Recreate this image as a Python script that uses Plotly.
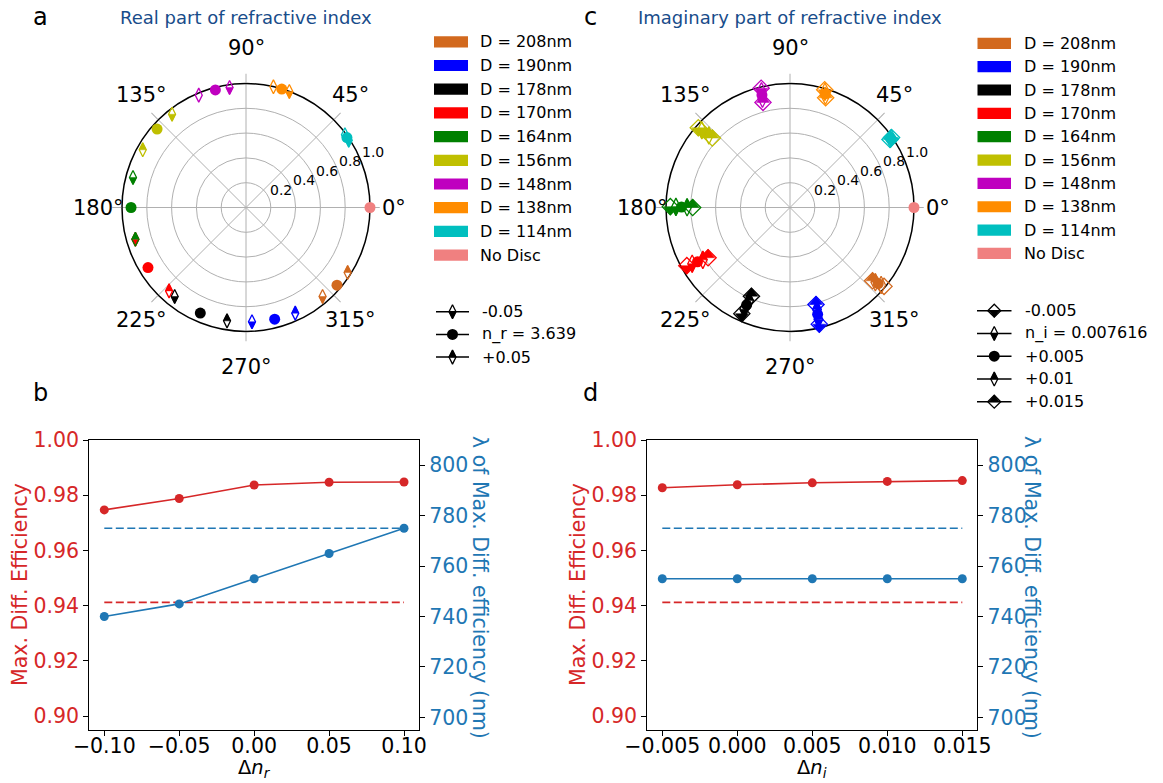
import math
import plotly.graph_objects as go

W, H = 1163, 783
FONT = "DejaVu Sans"
RED = "#d62728"
BLUE = "#1f77b4"
TITLE_BLUE = "#184c8a"
GRID = "#b0b0b0"
R_PX = 124  # polar radius in pixels

# ---------------- polar data ----------------
disc_labels = ["D = 208nm", "D = 190nm", "D = 178nm", "D = 170nm", "D = 164nm",
               "D = 156nm", "D = 148nm", "D = 138nm", "D = 114nm", "No Disc"]
disc_colors = ["#D2691E", "#0000FF", "#000000", "#FF0000", "#008000",
               "#BFBF00", "#BF00BF", "#FF8C00", "#00BFBF", "#F08080"]
disc_only_colors = disc_colors[:9]

# panel a (real part): phase in degrees and amplitude, discs 208 .. 114
real_phase_m005 = [310.7, 273.0, 231.3, 196.0, 165.1, 128.4, 97.8, 69.5, 33.2]
real_phase_nom = [319.5, 284.4, 246.6, 211.5, 180.0, 138.6, 104.6, 73.2, 34.7]
real_phase_p005 = [327.4, 295.0, 260.5, 227.3, 196.0, 150.8, 112.8, 77.2, 36.3]
real_amp_m005 = [0.947, 0.923, 0.920, 0.928, 0.943, 0.960, 0.977, 0.998, 0.990]
real_amp_nom = [0.965, 0.930, 0.928, 0.927, 0.927, 0.956, 0.980, 0.998, 0.990]
real_amp_p005 = [0.973, 0.940, 0.927, 0.915, 0.928, 0.954, 0.983, 0.998, 0.990]

# panel c (imaginary part)
imag_phase_m0005 = [320.0, 284.1, 245.6, 209.4, 179.6, 139.0, 103.6, 73.6, 34.6]
imag_phase_nom = [319.6, 284.3, 245.8, 209.9, 179.7, 138.8, 103.8, 73.2, 34.5]
imag_phase_p0005 = [319.2, 284.5, 246.0, 210.4, 179.8, 138.6, 104.0, 72.8, 34.4]
imag_phase_p001 = [318.8, 284.8, 246.3, 211.0, 179.9, 138.4, 104.2, 72.4, 34.3]
imag_phase_p0015 = [318.4, 285.0, 246.5, 211.5, 180.0, 138.2, 104.4, 72.0, 34.2]
imag_amp_m0005 = [0.990, 0.970, 0.940, 0.955, 0.965, 0.980, 0.990, 0.990, 0.995]
imag_amp_nom = [0.965, 0.930, 0.900, 0.910, 0.920, 0.945, 0.965, 0.975, 0.990]
imag_amp_p0005 = [0.940, 0.890, 0.860, 0.865, 0.875, 0.910, 0.935, 0.960, 0.985]
imag_amp_p001 = [0.915, 0.850, 0.820, 0.820, 0.830, 0.875, 0.905, 0.945, 0.980]
imag_amp_p0015 = [0.890, 0.810, 0.780, 0.775, 0.785, 0.840, 0.875, 0.930, 0.975]

nodisc_phase = [0.0]
nodisc_amp = [1.0]

ang_ticks = [0, 45, 90, 135, 180, 225, 270, 315]
ang_tick_text = ["0°", "45°", "90°", "135°", "180°", "225°", "270°", "315°"]
rad_ticks = [0.2, 0.4, 0.6, 0.8, 1.0]
rad_tick_text = ["0.2", "0.4", "0.6", "0.8", "1.0"]

legend_a_labels = ["-0.05", "n_r = 3.639", "+0.05"]
legend_c_labels = ["-0.005", "n_i = 0.007616", "+0.005", "+0.01", "+0.015"]

# ---------------- line-chart data ----------------
dn_r = [-0.10, -0.05, 0.00, 0.05, 0.10]
dn_r_text = ["−0.10", "−0.05", "0.00", "0.05", "0.10"]
eff_r = [0.9747, 0.9788, 0.9837, 0.9847, 0.9848]
lam_r = [740, 745, 755, 765, 775]

dn_i = [-0.005, 0.000, 0.005, 0.010, 0.015]
dn_i_text = ["−0.005", "0.000", "0.005", "0.010", "0.015"]
eff_i = [0.9827, 0.9838, 0.9845, 0.9850, 0.9853]
lam_i = [755, 755, 755, 755, 755]

ref_eff = 0.9412
ref_lam = 775

eff_ticks = [0.90, 0.92, 0.94, 0.96, 0.98, 1.00]
lam_ticks = [700, 720, 740, 760, 780, 800]

fig = go.Figure()
NOFILL = "rgba(0,0,0,0)"


def marker_traces(make, shift, pos, colors, kind, half=None, s=10.0):
    """kind: 'circle', 'thin', 'wide'; half: 'top' or 'bottom' filled (other half unfilled)."""
    if kind == "circle":
        fig.add_trace(make(pos, dict(symbol="circle", size=1.1 * s, color=colors, line=dict(width=0))))
        return
    if kind == "thin":
        osym = "diamond-tall"
        fsym = "arrow-down" if half == "bottom" else "arrow-up"
        fsize, dy = 0.7 * s, 0.7 * s
    else:
        osym = "diamond"
        fsym = "triangle-down" if half == "bottom" else "triangle-up"
        fsize, dy = 0.9 * s, 0.225 * s
    if half == "top":
        dy = -dy
    fig.add_trace(make(pos, dict(symbol=osym, size=s, color=NOFILL,
                                 line=dict(color=colors, width=1.3))))
    fig.add_trace(make(shift(pos, dy), dict(symbol=fsym, size=fsize, color=colors,
                                            line=dict(color=colors, width=0.5))))


def polar_maker(subplot):
    def make(pos, marker):
        r, th = pos
        return go.Scatterpolar(r=r, theta=th, subplot=subplot, mode="markers", marker=marker,
                               cliponaxis=False, showlegend=False, hoverinfo="skip")
    return make


def polar_shift(pos, dy_px):
    r, th = pos
    rr, tt = [], []
    for ri, ti in zip(r, th):
        x = ri * math.cos(math.radians(ti))
        y = ri * math.sin(math.radians(ti)) - dy_px / R_PX
        rr.append(math.hypot(x, y))
        tt.append(math.degrees(math.atan2(y, x)))
    return rr, tt


def helper_maker(pos, marker):
    x, y = pos
    return go.Scatter(x=x, y=y, xaxis="x3", yaxis="y5", mode="markers", marker=marker,
                      cliponaxis=False, showlegend=False, hoverinfo="skip")


def helper_shift(pos, dy_px):
    x, y = pos
    return x, [v + dy_px for v in y]


# ----- panel a -----
mk = polar_maker("polar")
marker_traces(mk, polar_shift, (real_amp_m005, real_phase_m005), disc_only_colors, "thin", "bottom")
marker_traces(mk, polar_shift, (real_amp_nom, real_phase_nom), disc_only_colors, "circle")
marker_traces(mk, polar_shift, (real_amp_p005, real_phase_p005), disc_only_colors, "thin", "top")
marker_traces(mk, polar_shift, (nodisc_amp, nodisc_phase), [disc_colors[9]], "circle")

# ----- panel c -----
mk = polar_maker("polar2")
SC = 12.5
marker_traces(mk, polar_shift, (imag_amp_m0005, imag_phase_m0005), disc_only_colors, "wide", "bottom", SC)
marker_traces(mk, polar_shift, (imag_amp_nom, imag_phase_nom), disc_only_colors, "thin", "bottom", SC)
marker_traces(mk, polar_shift, (imag_amp_p0005, imag_phase_p0005), disc_only_colors, "circle", None, 10)
marker_traces(mk, polar_shift, (imag_amp_p001, imag_phase_p001), disc_only_colors, "thin", "top", SC)
marker_traces(mk, polar_shift, (imag_amp_p0015, imag_phase_p0015), disc_only_colors, "wide", "top", SC)
marker_traces(mk, polar_shift, (nodisc_amp, nodisc_phase), [disc_colors[9]], "circle")

shapes = []
annotations = []


def polar_layout(xc, yc):
    # angular tick labels (placed like matplotlib, outside the frame)
    for v, t in zip(ang_ticks, ang_tick_text):
        a = math.radians(v)
        annotations.append(dict(xref="x3", yref="y5", x=xc + 148 * math.cos(a), y=yc - 159.5 * math.sin(a),
                                text=t, showarrow=False, xanchor="center", yanchor="middle",
                                font=dict(size=21, color="black", family=FONT)))
    # radial tick labels along 22.5 degrees
    a = math.radians(22.5)
    for v, t in zip(rad_ticks, rad_tick_text):
        annotations.append(dict(xref="x3", yref="y5",
                                x=xc + v * R_PX * math.cos(a) + 12.2, y=yc - v * R_PX * math.sin(a) - 8.2,
                                text=t, showarrow=False, xanchor="center", yanchor="middle",
                                font=dict(size=14, color="black", family=FONT)))
    return dict(
        domain=dict(x=[(xc - R_PX) / W, (xc + R_PX) / W], y=[1 - (yc + R_PX) / H, 1 - (yc - R_PX) / H]),
        bgcolor="white",
        angularaxis=dict(rotation=0, direction="counterclockwise",
                         tickmode="array", tickvals=ang_ticks, ticktext=ang_tick_text, showticklabels=False,
                         showline=True, linecolor="black", linewidth=1.5,
                         showgrid=True, gridcolor=GRID, gridwidth=1,
                         ticks="outside", ticklen=9, tickcolor=GRID, tickwidth=1,
                         layer="below traces"),
        radialaxis=dict(range=[0, 1.0], tickmode="array", tickvals=rad_ticks, ticktext=rad_tick_text,
                        showticklabels=False, showline=False, ticks="", angle=22.5,
                        showgrid=True, gridcolor=GRID, gridwidth=1,
                        layer="below traces"),
    )


polar_a = polar_layout(246, 207.5)
polar_c = polar_layout(790, 207.5)


# ----- bottom line charts -----
def add_lines(xa, ya_left, ya_right, xs, eff, lam):
    fig.add_trace(go.Scatter(x=xs, y=eff, xaxis=xa, yaxis=ya_left, mode="lines+markers",
                             line=dict(color=RED, width=1.6), marker=dict(size=9, color=RED),
                             showlegend=False, hoverinfo="skip"))
    fig.add_trace(go.Scatter(x=xs, y=[ref_eff] * len(xs), xaxis=xa, yaxis=ya_left, mode="lines",
                             line=dict(color=RED, width=1.6, dash="8px,3.5px"),
                             showlegend=False, hoverinfo="skip"))
    fig.add_trace(go.Scatter(x=xs, y=lam, xaxis=xa, yaxis=ya_right, mode="lines+markers",
                             line=dict(color=BLUE, width=1.6), marker=dict(size=9, color=BLUE),
                             showlegend=False, hoverinfo="skip"))
    fig.add_trace(go.Scatter(x=xs, y=[ref_lam] * len(xs), xaxis=xa, yaxis=ya_right, mode="lines",
                             line=dict(color=BLUE, width=1.6, dash="8px,3.5px"),
                             showlegend=False, hoverinfo="skip"))


add_lines("x", "y", "y2", dn_r, eff_r, lam_r)
add_lines("x2", "y3", "y4", dn_i, eff_i, lam_i)


# ----- custom legends (pixel coordinates on a hidden helper axis) -----
def color_legend(x0, x1, xt, y0, dy):
    for i, (lab, col) in enumerate(zip(disc_labels, disc_colors)):
        yc = y0 + dy * i
        shapes.append(dict(type="rect", xref="x3", yref="y5", x0=x0, x1=x1, y0=yc - 5.6, y1=yc + 5.6,
                           fillcolor=col, line=dict(width=0), layer="above"))
        annotations.append(dict(xref="x3", yref="y5", x=xt, y=yc, text=lab, showarrow=False,
                                xanchor="left", yanchor="middle",
                                font=dict(size=16, color="black", family=FONT)))


color_legend(434, 468, 478, 41.8, 23.7)
color_legend(977.5, 1011, 1022, 43.3, 23.35)


def marker_legend(x0, x1, xt, y0, dy, labels, kinds):
    xm = (x0 + x1) / 2
    for i, (lab, (kind, half)) in enumerate(zip(labels, kinds)):
        yc = y0 + dy * i
        fig.add_trace(go.Scatter(x=[x0, x1], y=[yc, yc], xaxis="x3", yaxis="y5", mode="lines",
                                 line=dict(color="black", width=1.5), showlegend=False, hoverinfo="skip"))
        marker_traces(helper_maker, helper_shift, ([xm], [yc]), ["black"], kind, half)
        annotations.append(dict(xref="x3", yref="y5", x=xt, y=yc, text=lab, showarrow=False,
                                xanchor="left", yanchor="middle",
                                font=dict(size=16, color="black", family=FONT)))


marker_legend(436, 469, 480, 311.7, 22.7, legend_a_labels,
              [("thin", "bottom"), ("circle", None), ("thin", "top")])
marker_legend(977, 1011.5, 1023, 310.7, 22.75, legend_c_labels,
              [("wide", "bottom"), ("thin", "bottom"), ("circle", None), ("thin", "top"), ("wide", "top")])

# titles and panel letters
for txt, x in [("Real part of refractive index", 246), ("Imaginary part of refractive index", 790)]:
    annotations.append(dict(xref="x3", yref="y5", x=x, y=17, text=txt, showarrow=False,
                            xanchor="center", yanchor="middle",
                            font=dict(size=18, color=TITLE_BLUE, family=FONT)))
for txt, x, y in [("a", 40, 17), ("c", 590, 17), ("b", 40, 393), ("d", 590, 393)]:
    annotations.append(dict(xref="x3", yref="y5", x=x, y=y, text=txt, showarrow=False,
                            xanchor="center", yanchor="middle",
                            font=dict(size=24, color="black", family=FONT)))
# y-axis titles
for x in [20, 578]:
    annotations.append(dict(xref="x3", yref="y5", x=x, y=585, text="Max. Diff. Efficiency",
                            showarrow=False, textangle=-90, xanchor="center", yanchor="middle",
                            font=dict(size=20.5, color=RED, family=FONT)))
for x in [480, 1032]:
    annotations.append(dict(xref="x3", yref="y5", x=x, y=587, text="λ of Max. Diff. efficiency (nm)",
                            showarrow=False, textangle=90, xanchor="center", yanchor="middle",
                            font=dict(size=20.5, color=BLUE, family=FONT)))
# x-axis titles
for txt, x in [("Δ<i>n</i><sub><i>r</i></sub>", 254), ("Δ<i>n</i><sub><i>i</i></sub>", 812)]:
    annotations.append(dict(xref="x3", yref="y5", x=x, y=783, text=txt, showarrow=False,
                            xanchor="center", yanchor="bottom",
                            font=dict(size=19.5, color="black", family=FONT)))

y_dom = [1 - 730 / H, 1 - 440 / H]


def xaxis_cfg(dom, rng, vals, texts, anchor):
    return dict(domain=dom, range=rng, anchor=anchor, tickmode="array", tickvals=vals, ticktext=texts,
                showline=True, mirror=True, linecolor="black", linewidth=1.3, automargin=False,
                ticks="outside", ticklen=5, tickwidth=1.3, tickcolor="black", ticklabelstandoff=-8,
                tickfont=dict(size=20.5, color="black", family=FONT),
                showgrid=False, zeroline=False)


def yleft_cfg(anchor):
    return dict(domain=y_dom, range=[0.895, 1.0], anchor=anchor, tickmode="array", tickvals=eff_ticks,
                tickformat=".2f", showline=True, linecolor="black", linewidth=1.3, automargin=False,
                ticks="outside", ticklen=5, tickwidth=1.3, tickcolor="black",
                tickfont=dict(size=20.5, color=RED, family=FONT), showgrid=False, zeroline=False)


def yright_cfg(anchor, over):
    return dict(range=[695, 810], anchor=anchor, overlaying=over, side="right", automargin=False,
                tickmode="array", tickvals=lam_ticks,
                showline=True, linecolor="black", linewidth=1.3,
                ticks="outside", ticklen=5, tickwidth=1.3, tickcolor="black",
                tickfont=dict(size=20.5, color=BLUE, family=FONT), showgrid=False, zeroline=False)


fig.update_layout(
    width=W, height=H, margin=dict(l=0, r=0, t=0, b=0, pad=0), autosize=False,
    paper_bgcolor="white", plot_bgcolor="rgba(0,0,0,0)",
    font=dict(family=FONT, color="black"),
    showlegend=False,
    polar=polar_a,
    polar2=polar_c,
    xaxis=xaxis_cfg([89.3 / W, 419 / W], [-0.11, 0.11], dn_r, dn_r_text, "y"),
    yaxis=yleft_cfg("x"),
    yaxis2=yright_cfg("x", "y"),
    xaxis2=xaxis_cfg([647.3 / W, 977.3 / W], [-0.006, 0.016], dn_i, dn_i_text, "y3"),
    yaxis3=yleft_cfg("x2"),
    yaxis4=yright_cfg("x2", "y3"),
    xaxis3=dict(domain=[0, 1], range=[0, W], visible=False, fixedrange=True, automargin=False, anchor="y5"),
    yaxis5=dict(domain=[0, 1], range=[H, 0], visible=False, fixedrange=True, automargin=False, anchor="x3"),
    shapes=shapes,
    annotations=annotations,
)

fig.write_html("out.html")
